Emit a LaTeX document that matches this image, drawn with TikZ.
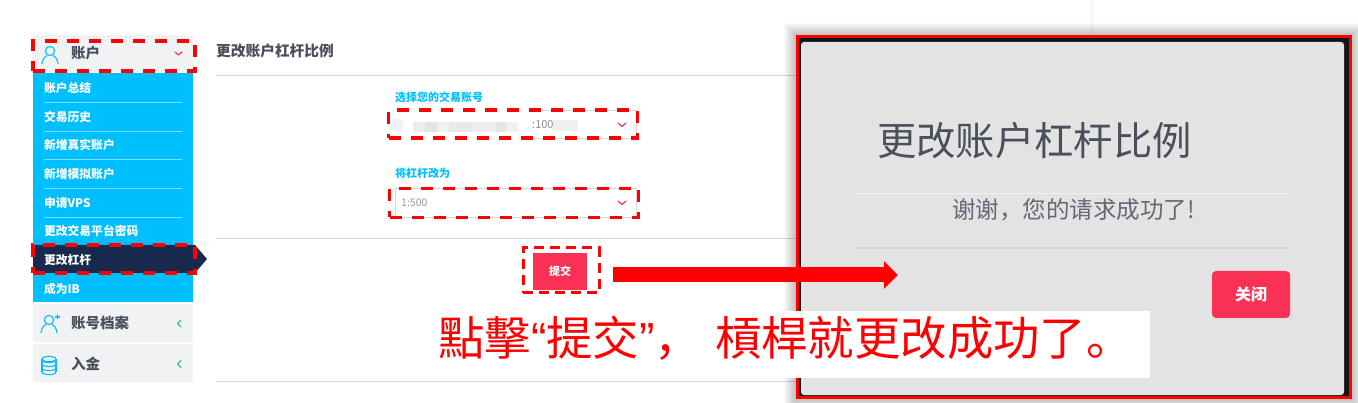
\documentclass[tikz,border=0pt]{standalone}
\usepackage{fontspec}
\setmainfont{Noto Sans CJK SC}
\newfontfamily\tcfont{Noto Sans CJK TC}
\newfontfamily\scfont{Noto Sans CJK SC}
\newfontfamily\latinfont{Liberation Sans}
\usetikzlibrary{arrows.meta,positioning}
\definecolor{skyblue}{HTML}{00BFFF}
\definecolor{menugray}{HTML}{F1F2F4}
\definecolor{navy}{HTML}{172A4D}
\definecolor{inkgray}{HTML}{4A4F5C}
\definecolor{btnred}{HTML}{F93255}
\definecolor{rulegray}{HTML}{D9D9DB}
\definecolor{modalgray}{HTML}{E3E3E3}
\definecolor{chevgreen}{HTML}{2ECC71}
\newcommand{\fs}[1]{\fontsize{#1}{#1}\selectfont}
\tikzset{
  menuitem/.style={text width=138pt,minimum height=28.65pt,inner sep=0pt,align=left,
    font=\fs{11.8}\bfseries,text=white},
  menuhead/.style={fill=menugray,minimum width=160pt,inner sep=0pt},
  headtext/.style={anchor=west,inner sep=0pt,font=\fs{14.5}\bfseries,text=inkgray},
  dashbox/.style={draw=red,line width=3.5pt,dash pattern=on 12pt off 10pt,inner sep=0pt},
  fieldbox/.style={draw=rulegray,fill=white,line width=1pt,inner sep=0pt},
  fieldlabel/.style={anchor=west,inner sep=0pt,font=\fs{11}\bfseries,text=skyblue},
  redbtn/.style={fill=btnred,text=white,inner sep=0pt,font=\bfseries},
  pagerule/.style={draw=rulegray,line width=1pt},
  chevron/.style={line width=1.2pt,line cap=round,line join=round},
  icon/.style={draw=skyblue,line width=1.1pt},
  personicon/.pic={
    \draw[icon] (0,-4) circle (4.6pt);
    \draw[icon] (-8,9) .. controls (-7,2) and (-4,1) .. (-3,0.5);
    \draw[icon] (8,9) .. controls (7,2) and (4,1) .. (3,0.5);
  },
  coinicon/.pic={
    \foreach \yy in {-4,0,4,8}
      \draw[icon] (-7,\yy) arc (180:360:7pt and 2.6pt);
    \draw[icon] (0,-5) ellipse (7pt and 2.6pt);
    \draw[icon] (-7,-5) -- (-7,8);
    \draw[icon] (7,-5) -- (7,8);
  },
}
\begin{document}
\begin{tikzpicture}[x=1pt,y=-1pt,node distance=28.65pt,on grid]
   \useasboundingbox (0,0) rectangle (1358,403);
   \fill[white] (0,0) rectangle (1358,403);
   % page behind the dialog
   \draw[pagerule,draw=black!6] (1091,0) -- (1091,35);
   \node[inner sep=0pt,anchor=west,font=\fs{14.7}\bfseries,text=inkgray] (page_title) at (216,51) {更改账户杠杆比例};
   \foreach \yy in {75.5,238.5,381.5}
     \draw[pagerule] (216,\yy) -- (796,\yy);

   % side menu
   \node[menuhead,minimum height=37pt] (head_acct) at (113,53.5) {};
   \fill[skyblue] (33,73) rectangle (193,302);
   \node[menuitem] (item_1) at (113,88) {账户总结};
   \node[menuitem] (item_2) [below=of item_1] {交易历史};
   \node[menuitem] (item_3) [below=of item_2] {新增真实账户};
   \node[menuitem] (item_4) [below=of item_3] {新增模拟账户};
   \node[menuitem] (item_5) [below=of item_4] {申请VPS};
   \node[menuitem] (item_6) [below=of item_5] {更改交易平台密码};
   \fill[navy] (33,245) -- (195,245) -- (207,259) -- (195,273) -- (33,273) -- cycle;
   \node[menuitem] (item_7) [below=of item_6] {更改杠杆};
   \node[menuitem] (item_8) [below=of item_7] {成为IB};
   \foreach \i in {1,...,5}
     \draw[white!80!skyblue,opacity=.6,line width=.8pt] (item_\i.south west) -- (item_\i.south east);
   \node[menuhead,minimum height=38pt] (head_profile) at (113,323) {};
   \node[menuhead,minimum height=38pt] (head_fund) at (113,363.5) {};
   \node[headtext] (text_acct) at (71,53.5) {账户};
   \node[headtext] (text_profile) at (71,323) {账号档案};
   \node[headtext] (text_fund) at (71,363.5) {入金};
   \pic at (50,55) {personicon};
   \pic at (49,324) {personicon};
   \draw[icon] (55,317) -- (60,317) (57.5,314.5) -- (57.5,319.5);
   \pic at (49,364) {coinicon};
   \draw[chevron,btnred] (175,52) -- (178.5,55) -- (182,52);
   \draw[chevron,chevgreen] (181,320) -- (177.5,323.5) -- (181,327);
   \draw[chevron,chevgreen] (181,360.5) -- (177.5,364) -- (181,367.5);

   % form
   \node[fieldlabel] (label_acct) at (395,97) {选择您的交易账号};
   \node[fieldlabel] (label_lev) at (395,173) {将杠杆改为};
   \node[fieldbox,minimum width=241pt,minimum height=28pt] (field_acct) at (515.5,125) {};
   \node[fieldbox,minimum width=241pt,minimum height=29pt] (field_lev) at (515.5,203) {};
   \fill[white] (390,106) rectangle (528,142);
   \fill[black!5] (390,119) rectangle (403,131);
   \foreach \xa/\xb/\sh in {413/425/7,425/437/11,437/449/6,449/473/9,473/496/7,496/506/10,506/518/6}
     \fill[black!\sh] (\xa,122) rectangle (\xb,132);
   \fill[black!6] (553,120) rectangle (578,131);
   \node[inner sep=0pt,anchor=west,font=\fs{11},text=black!45] (value_acct) at (532,125) {:100};
   \node[inner sep=0pt,anchor=west,font=\fs{10.5},text=black!40] (value_lev) at (401,203) {1:500};
   \draw[chevron,btnred] (618,123) -- (622,126.5) -- (626,123);
   \draw[chevron,btnred] (618,201) -- (622,204.5) -- (626,201);
   \node[redbtn,minimum width=54pt,minimum height=37pt,font=\fs{11}\bfseries] (btn_submit) at (560,271.5) {提交};

   % dialog
   \foreach \g in {1,...,12}
     \fill[black,opacity=.018] (796-\g,35-\g) rectangle (1352+\g,399+\g);
   \fill[black!92] (796,35) rectangle (1352,399);
   \draw[red,line width=3pt] (797.5,36.5) rectangle (1350.5,397.5);
   \fill[modalgray,rounded corners=3pt] (801,42) rectangle (1344,395);
   \node[inner sep=0pt,anchor=west,font=\fs{39.3},text=inkgray] (dlg_title) at (877,141) {更改账户杠杆比例};
   \draw[white,opacity=.5,line width=.8pt] (856,193) -- (1290,193);
   \node[inner sep=0pt,font=\fs{23.5},text=inkgray!85] (dlg_msg) at (1073.5,210) {谢谢，您的请求成功了!};
   \draw[black!17,line width=1.3pt] (856,248) -- (1290,248);
   \fill[black!12,rounded corners=3pt] (1214,273) rectangle (1293,321);
   \node[redbtn,rounded corners=4pt,minimum width=78pt,minimum height=47pt,font=\fs{16}\bfseries] (btn_close) at (1251,294.5) {关闭};

   % dashed marks
   \node[dashbox,minimum width=162pt,minimum height=30pt] (mark_acct) at (114,56) {};
   \node[dashbox,minimum width=162pt,minimum height=28pt] (mark_lev) at (114,259) {};
   \node[dashbox,minimum width=249pt,minimum height=28pt] (mark_field1) at (513,124) {};
   \node[dashbox,minimum width=249pt,minimum height=29pt] (mark_field2) at (514,203) {};
   \node[dashbox,dash pattern=on 10pt off 6pt,line width=3pt,minimum width=76pt,minimum height=45pt] (mark_submit) at (561,270.5) {};

   % note and arrow
   \node[fill=white,minimum width=734pt,minimum height=67pt,inner sep=0pt] (note_box) at (783,344.5) {};
   \node[inner sep=0pt,anchor=west,text=red,font=\fs{46.4}\tcfont] (note) at (438,338)
     {點擊{\latinfont“}提交{\latinfont”}{\scfont ，}\hspace{14pt}槓桿就更改成功了{\scfont 。}};
   \coordinate (arrow_end) at (898,275);
   \draw[red,line width=15pt,-{Triangle[length=14pt,width=27pt]},shorten <=12pt]
     (mark_submit.east |- arrow_end) -- (arrow_end);
\end{tikzpicture}
\end{document}
